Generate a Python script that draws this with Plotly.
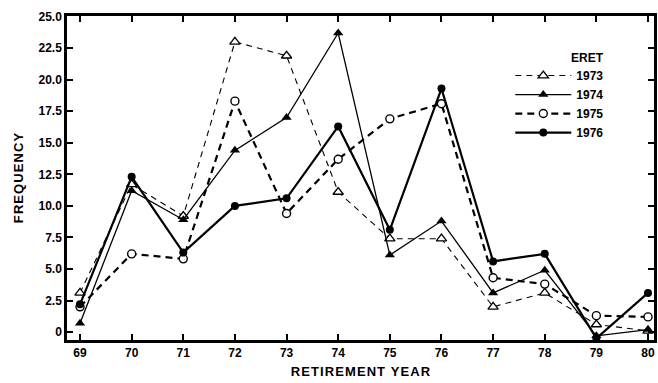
import plotly.graph_objects as go

years = [69, 70, 71, 72, 73, 74, 75, 76, 77, 78, 79, 80]
eret_1973 = [3.1, 11.7, 9.2, 23.0, 21.9, 11.1, 7.4, 7.4, 2.0, 3.1, 0.6, 0.1]
eret_1974 = [0.7, 11.2, 8.9, 14.4, 17.0, 23.7, 6.1, 8.8, 3.1, 4.9, -0.3, 0.2]
eret_1975 = [2.0, 6.2, 5.8, 18.3, 9.4, 13.7, 16.9, 18.1, 4.3, 3.8, 1.3, 1.2]
eret_1976 = [2.2, 12.3, 6.3, 10.0, 10.6, 16.3, 8.1, 19.3, 5.6, 6.2, -0.5, 3.1]

ytick_vals = [0, 2.5, 5, 7.5, 10, 12.5, 15, 17.5, 20, 22.5, 25]
ytick_text = ["0", "2.5", "5.0", "7.5", "10.0", "12.5", "15.0", "17.5", "20.0", "22.5", "25.0"]

FONT = "Liberation Sans, Arial, sans-serif"

fig = go.Figure()
fig.add_trace(go.Scatter(
    x=years, y=eret_1973, name="1973", mode="lines+markers",
    line=dict(color="black", width=1.1, dash="6px,5px"),
    marker=dict(symbol="triangle-up", size=9, color="white", line=dict(width=1.3, color="black")),
))
fig.add_trace(go.Scatter(
    x=years, y=eret_1974, name="1974", mode="lines+markers",
    line=dict(color="black", width=1.3),
    marker=dict(symbol="triangle-up", size=9, color="black"),
))
fig.add_trace(go.Scatter(
    x=years, y=eret_1975, name="1975", mode="lines+markers",
    line=dict(color="black", width=2.2, dash="7px,5px"),
    marker=dict(symbol="circle", size=8, color="white", line=dict(width=1.4, color="black")),
))
fig.add_trace(go.Scatter(
    x=years, y=eret_1976, name="1976", mode="lines+markers",
    line=dict(color="black", width=2.2),
    marker=dict(symbol="circle", size=8, color="black"),
))

fig.update_layout(
    width=658, height=383,
    margin=dict(l=67, r=4, t=16, b=43, autoexpand=False),
    paper_bgcolor="white", plot_bgcolor="white",
    font=dict(family=FONT, size=12, color="black", weight=700),
    showlegend=True,
    legend=dict(
        x=0.7552, y=0.861, xanchor="left", yanchor="top",
        bgcolor="rgba(0,0,0,0)", borderwidth=0,
        font=dict(family=FONT, size=12, color="black", weight=700),
        tracegroupgap=0, itemwidth=56,
    ),
    annotations=[dict(
        text="ERET", xref="paper", yref="paper", x=0.855, y=0.870,
        xanchor="left", yanchor="middle", showarrow=False,
        font=dict(family=FONT, size=12, color="black", weight=700),
    )],
)
fig.update_xaxes(
    range=[68.748, 80.116], tickvals=years, ticktext=[str(y) for y in years],
    ticks="inside", ticklen=6, tickwidth=1.5, tickcolor="black",
    showline=True, linewidth=2.5, linecolor="black", mirror="ticks",
    showgrid=False, zeroline=False, automargin=False,
    title=dict(text="\u200a".join("RETIREMENT YEAR"), standoff=8,
               font=dict(family=FONT, size=13, color="black", weight=700)),
    tickfont=dict(family=FONT, size=12, color="black", weight=700),
)
fig.update_yaxes(
    range=[-0.63, 25.05], tickvals=ytick_vals, ticktext=ytick_text,
    ticks="inside", ticklen=6, tickwidth=1.5, tickcolor="black",
    showline=True, linewidth=2.5, linecolor="black", mirror="ticks",
    showgrid=False, zeroline=False, automargin=False,
    title=dict(text="\u200a".join("FREQUENCY"), standoff=12,
               font=dict(family=FONT, size=13, color="black", weight=700)),
    tickfont=dict(family=FONT, size=12, color="black", weight=700),
)

fig.write_html("out.html", config={"displayModeBar": False},
               post_script="document.body.style.margin='0';")
